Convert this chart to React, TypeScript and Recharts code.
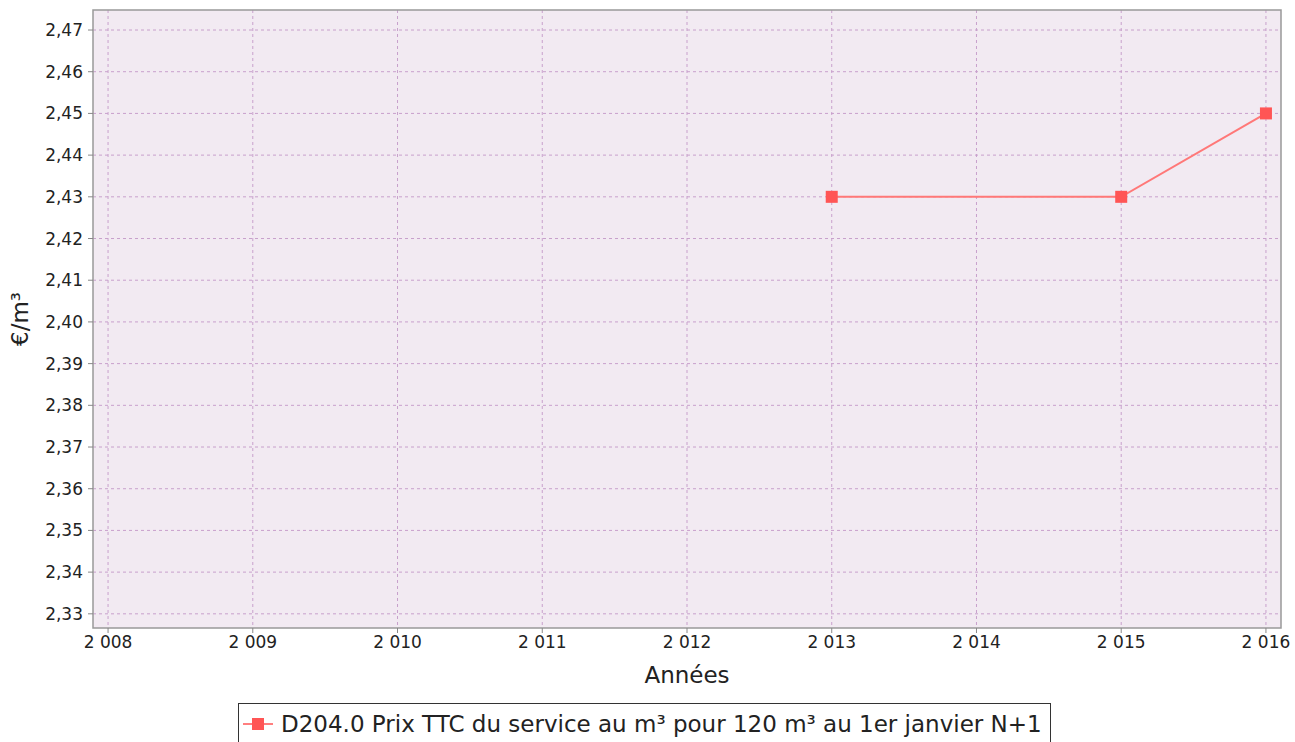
import { CartesianGrid, Label, Legend, Line, LineChart, ReferenceArea, XAxis, YAxis } from "recharts";

const years = [2013, 2015, 2016];
const prices = [2.43, 2.43, 2.45];
const xTicks = [2008, 2009, 2010, 2011, 2012, 2013, 2014, 2015, 2016];
const yTicks = [2.33, 2.34, 2.35, 2.36, 2.37, 2.38, 2.39, 2.4, 2.41, 2.42, 2.43, 2.44, 2.45, 2.46, 2.47];
const seriesName = "D204.0 Prix TTC du service au m³ pour 120 m³ au 1er janvier N+1";

const data = years.map((year, i) => ({ year, price: prices[i] }));

const X_DOMAIN: [number, number] = [2007.896, 2016.104];
const Y_DOMAIN: [number, number] = [2.3266, 2.4748];

const font = "'DejaVu Sans', sans-serif";

const fmtYear = (v: number) => `${String(v).slice(0, 1)} ${String(v).slice(1)}`;
const fmtPrice = (v: number) => v.toFixed(2).replace(".", ",");

function Square(props: any) {
  const { cx, cy } = props;
  if (cx == null || cy == null) return null;
  return <rect x={cx - 6} y={cy - 6} width={12} height={12} fill="#ff5555" />;
}

function LegendBox() {
  return (
    <div
      style={{
        position: "absolute",
        left: 238,
        top: 703,
        height: 41,
        border: "1px solid #333",
        background: "#fff",
        display: "flex",
        alignItems: "center",
        padding: "0 8px 0 4px",
        fontFamily: font,
        fontSize: 23,
        color: "#222",
        whiteSpace: "nowrap",
        boxSizing: "border-box",
      }}
    >
      <svg width={30} height={12} style={{ marginRight: 8 }}>
        <line x1={0} y1={6} x2={30} y2={6} stroke="#ff5555" strokeWidth={1.5} />
        <rect x={9} y={0} width={12} height={12} fill="#ff5555" />
      </svg>
      {seriesName}
    </div>
  );
}

export default function App() {
  return (
    <div style={{ position: "relative", width: 1295, height: 742, background: "#fff", overflow: "hidden" }}>
      <style>{"body{margin:0}"}</style>
      <LineChart width={1295} height={742} data={data} margin={{ top: 10, right: 14, bottom: 84, left: 10 }}>
        <CartesianGrid fill="#f2eaf2" stroke="#c8a0cc" strokeDasharray="3 3" horizontalValues={yTicks} verticalValues={xTicks} />
        <ReferenceArea x1={X_DOMAIN[0]} x2={X_DOMAIN[1]} y1={Y_DOMAIN[0]} y2={Y_DOMAIN[1]} fill="none" stroke="#999" strokeWidth={1.5} />
        <XAxis
          dataKey="year"
          type="number"
          domain={X_DOMAIN}
          ticks={xTicks}
          tickFormatter={fmtYear}
          allowDataOverflow
          height={30}
          tickSize={5}
          tickMargin={3}
          tickLine={{ stroke: "#888" }}
          axisLine={false}
          tick={{ fill: "#222", fontSize: 17, fontFamily: font }}
        >
          <Label value="Années" position="insideBottom" offset={-25} style={{ fill: "#222", fontSize: 23, fontFamily: font }} />
        </XAxis>
        <YAxis
          type="number"
          domain={Y_DOMAIN}
          ticks={yTicks}
          tickFormatter={fmtPrice}
          allowDataOverflow
          width={83}
          tickSize={5}
          tickMargin={5}
          tickLine={{ stroke: "#888" }}
          axisLine={false}
          tick={{ fill: "#222", fontSize: 17, fontFamily: font }}
        >
          <Label value="€/m³" angle={-90} position="insideLeft" offset={10} style={{ fill: "#222", fontSize: 23, fontFamily: font, textAnchor: "middle" }} />
        </YAxis>
        <Legend content={() => null} />
        <Line
          dataKey="price"
          name={seriesName}
          stroke="#ff7878"
          strokeWidth={2}
          dot={<Square />}
          activeDot={false}
          isAnimationActive={false}
        />
      </LineChart>
      <LegendBox />
    </div>
  );
}
